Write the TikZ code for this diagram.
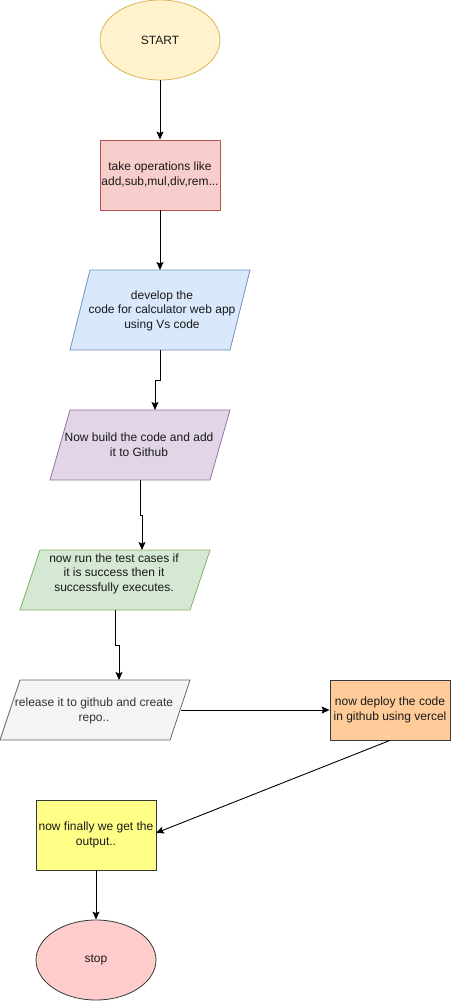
\documentclass[tikz,border=0pt]{standalone}
\usepackage{fontspec}
\setmainfont{Liberation Sans}
\usetikzlibrary{arrows.meta,shapes.geometric}
\definecolor{yfill}{HTML}{FFF2CC}\definecolor{ydraw}{HTML}{D6B656}
\definecolor{rfill}{HTML}{F8CECC}\definecolor{rdraw}{HTML}{B85450}
\definecolor{bfill}{HTML}{DAE8FC}\definecolor{bdraw}{HTML}{6C8EBF}
\definecolor{pfill}{HTML}{E1D5E7}\definecolor{pdraw}{HTML}{9673A6}
\definecolor{gfill}{HTML}{D5E8D4}\definecolor{gdraw}{HTML}{82B366}
\definecolor{sfill}{HTML}{F5F5F5}\definecolor{sdraw}{HTML}{666666}
\definecolor{ofill}{HTML}{FFCC99}\definecolor{odraw}{HTML}{36393D}
\definecolor{lfill}{HTML}{FFFF88}
\definecolor{kfill}{HTML}{FFCCCC}
\definecolor{gtext}{HTML}{333333}
\newcommand{\mlines}[1]{\begin{tabular}{@{}c@{}}#1\end{tabular}}
\begin{document}
\begin{tikzpicture}[x=1pt,y=-1pt,
  every node/.style={font=\fontsize{12}{14.5}\selectfont, text=black!90},
  shp/.style={line width=0.8pt},
  rbox/.style={shp, draw, rectangle, minimum width=120pt, inner sep=0pt},
  ell/.style={shp, draw, ellipse, minimum width=120pt, minimum height=80pt, inner sep=0pt},
  txt/.style={inner sep=0pt},
  conn/.style={line width=0.9pt, -{Stealth[length=8pt,width=7pt,inset=1.5pt]}}]
\useasboundingbox (0,0) rectangle (451,1001);
% start
\node[ell, fill=yfill, draw=ydraw] (start) at (160,40) {START};
% ops
\node[rbox, fill=rfill, draw=rdraw, minimum height=70pt] (ops) at (160,175) {\mlines{take operations like\\add,sub,mul,div,rem...}};
% develop (parallelogram)
\draw[shp, fill=bfill, draw=bdraw] (90,270) -- (250,270) -- (230,350) -- (70,350) -- cycle;
\coordinate (devT) at (160,270); \coordinate (devB) at (160,350);
\node[txt] (dev) at (162,311) {\mlines{develop the\\code for calculator web app\\using Vs code}};
% build
\draw[shp, fill=pfill, draw=pdraw] (70,410) -- (230,410) -- (210,480) -- (50,480) -- cycle;
\coordinate (bldT) at (155,410); \coordinate (bldB) at (140,480);
\node[txt] (bld) at (139,446) {\mlines{Now build the code and add\\it to Github}};
% test
\draw[shp, fill=gfill, draw=gdraw] (40,550) -- (210,550) -- (190,610) -- (20,610) -- cycle;
\coordinate (tstT) at (142,550); \coordinate (tstB) at (115,610);
\node[txt] (tst) at (114,574) {\mlines{now run the test cases if\\it is success then it\\successfully executes.}};
% release
\draw[shp, fill=sfill, draw=sdraw] (20,680) -- (190,680) -- (170,740) -- (0,740) -- cycle;
\coordinate (relT) at (119,680); \coordinate (relR) at (181,710);
\node[txt, text=gtext] (rel) at (94,711) {\mlines{release it to github and create\\repo..}};
% deploy
\node[rbox, fill=ofill, draw=odraw, minimum height=60pt] (dep) at (390,710) {\mlines{now deploy the code\\in github using vercel}};
% output
\node[rbox, fill=lfill, draw=odraw, minimum height=70pt] (out) at (96,835) {\mlines{now finally we get the\\output..}};
\coordinate (outIn) at (156,833);
% stop
\node[ell, fill=kfill, draw=odraw] (stop) at (96,960) {stop};
% connectors
\draw[conn] (start.south) -- (ops.north);
\draw[conn] (ops.south) -- (devT);
\draw[conn] (devB) -- (160,380) -- (155,380) -- (bldT);
\draw[conn] (bldB) -- (140,515) -- (142,515) -- (tstT);
\draw[conn] (tstB) -- (115,645) -- (119,645) -- (relT);
\draw[conn] (relR) -- (dep.west);
\draw[conn] (dep.south) -- (outIn);
\draw[conn] (out.south) -- (stop.north);
\end{tikzpicture}
\end{document}
